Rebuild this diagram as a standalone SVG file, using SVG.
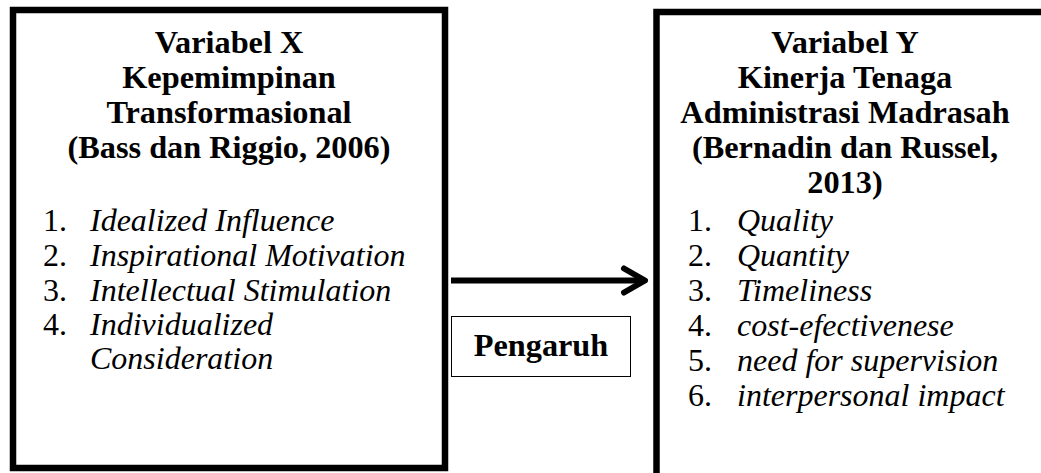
<svg xmlns="http://www.w3.org/2000/svg" width="1041" height="473" viewBox="0 0 1041 473">
<style>
.box{fill:#fff;stroke:#000;stroke-width:6.5}
.h{font-family:"Liberation Serif","Times New Roman",serif;font-weight:bold;font-size:32.3px;text-anchor:middle;fill:#000}
.li{font-family:"Liberation Serif","Times New Roman",serif;font-size:32px;fill:#000}
.it{font-style:italic}
.conn{stroke:#000;stroke-width:6;fill:none}
</style>
<rect width="1041" height="473" fill="#fff"/>
<g id="nodeX">
<rect class="box" x="13" y="10" width="432" height="458"/>
<text class="h" x="229" y="53">Variabel X</text>
<text class="h" x="229" y="88">Kepemimpinan</text>
<text class="h" x="229" y="123">Transformasional</text>
<text class="h" x="229" y="158">(Bass dan Riggio, 2006)</text>
<text class="li" x="43" y="231">1.</text><text class="li it" x="90" y="231">Idealized Influence</text>
<text class="li" x="43" y="266">2.</text><text class="li it" x="90" y="266">Inspirational Motivation</text>
<text class="li" x="43" y="301">3.</text><text class="li it" x="90" y="301">Intellectual Stimulation</text>
<text class="li" x="43" y="335">4.</text><text class="li it" x="90" y="335">Individualized</text>
<text class="li it" x="90" y="369">Consideration</text>
</g>
<g id="nodeY">
<rect class="box" x="656.5" y="12" width="390" height="465"/>
<text class="h" x="845" y="53">Variabel Y</text>
<text class="h" x="845" y="88">Kinerja Tenaga</text>
<text class="h" x="845" y="123">Administrasi Madrasah</text>
<text class="h" x="845" y="158">(Bernadin dan Russel,</text>
<text class="h" x="845" y="193">2013)</text>
<text class="li" x="688" y="231">1.</text><text class="li it" x="737" y="231">Quality</text>
<text class="li" x="688" y="266">2.</text><text class="li it" x="737" y="266">Quantity</text>
<text class="li" x="688" y="301">3.</text><text class="li it" x="737" y="301">Timeliness</text>
<text class="li" x="688" y="336">4.</text><text class="li it" x="737" y="336">cost-efectivenese</text>
<text class="li" x="688" y="371">5.</text><text class="li it" x="737" y="371">need for supervision</text>
<text class="li" x="688" y="406">6.</text><text class="li it" x="737" y="406">interpersonal impact</text>
</g>
<g id="label">
<rect x="451.5" y="316.5" width="179" height="60" fill="#fff" stroke="#000" stroke-width="1"/>
<text class="h" x="541" y="356">Pengaruh</text>
</g>
<g id="connectors">
<line class="conn" x1="451" y1="280.5" x2="644" y2="280.5"/>
<polyline class="conn" points="624,268.5 645,280.5 624,292.5" stroke-linecap="round" stroke-linejoin="round"/>
</g>
</svg>
